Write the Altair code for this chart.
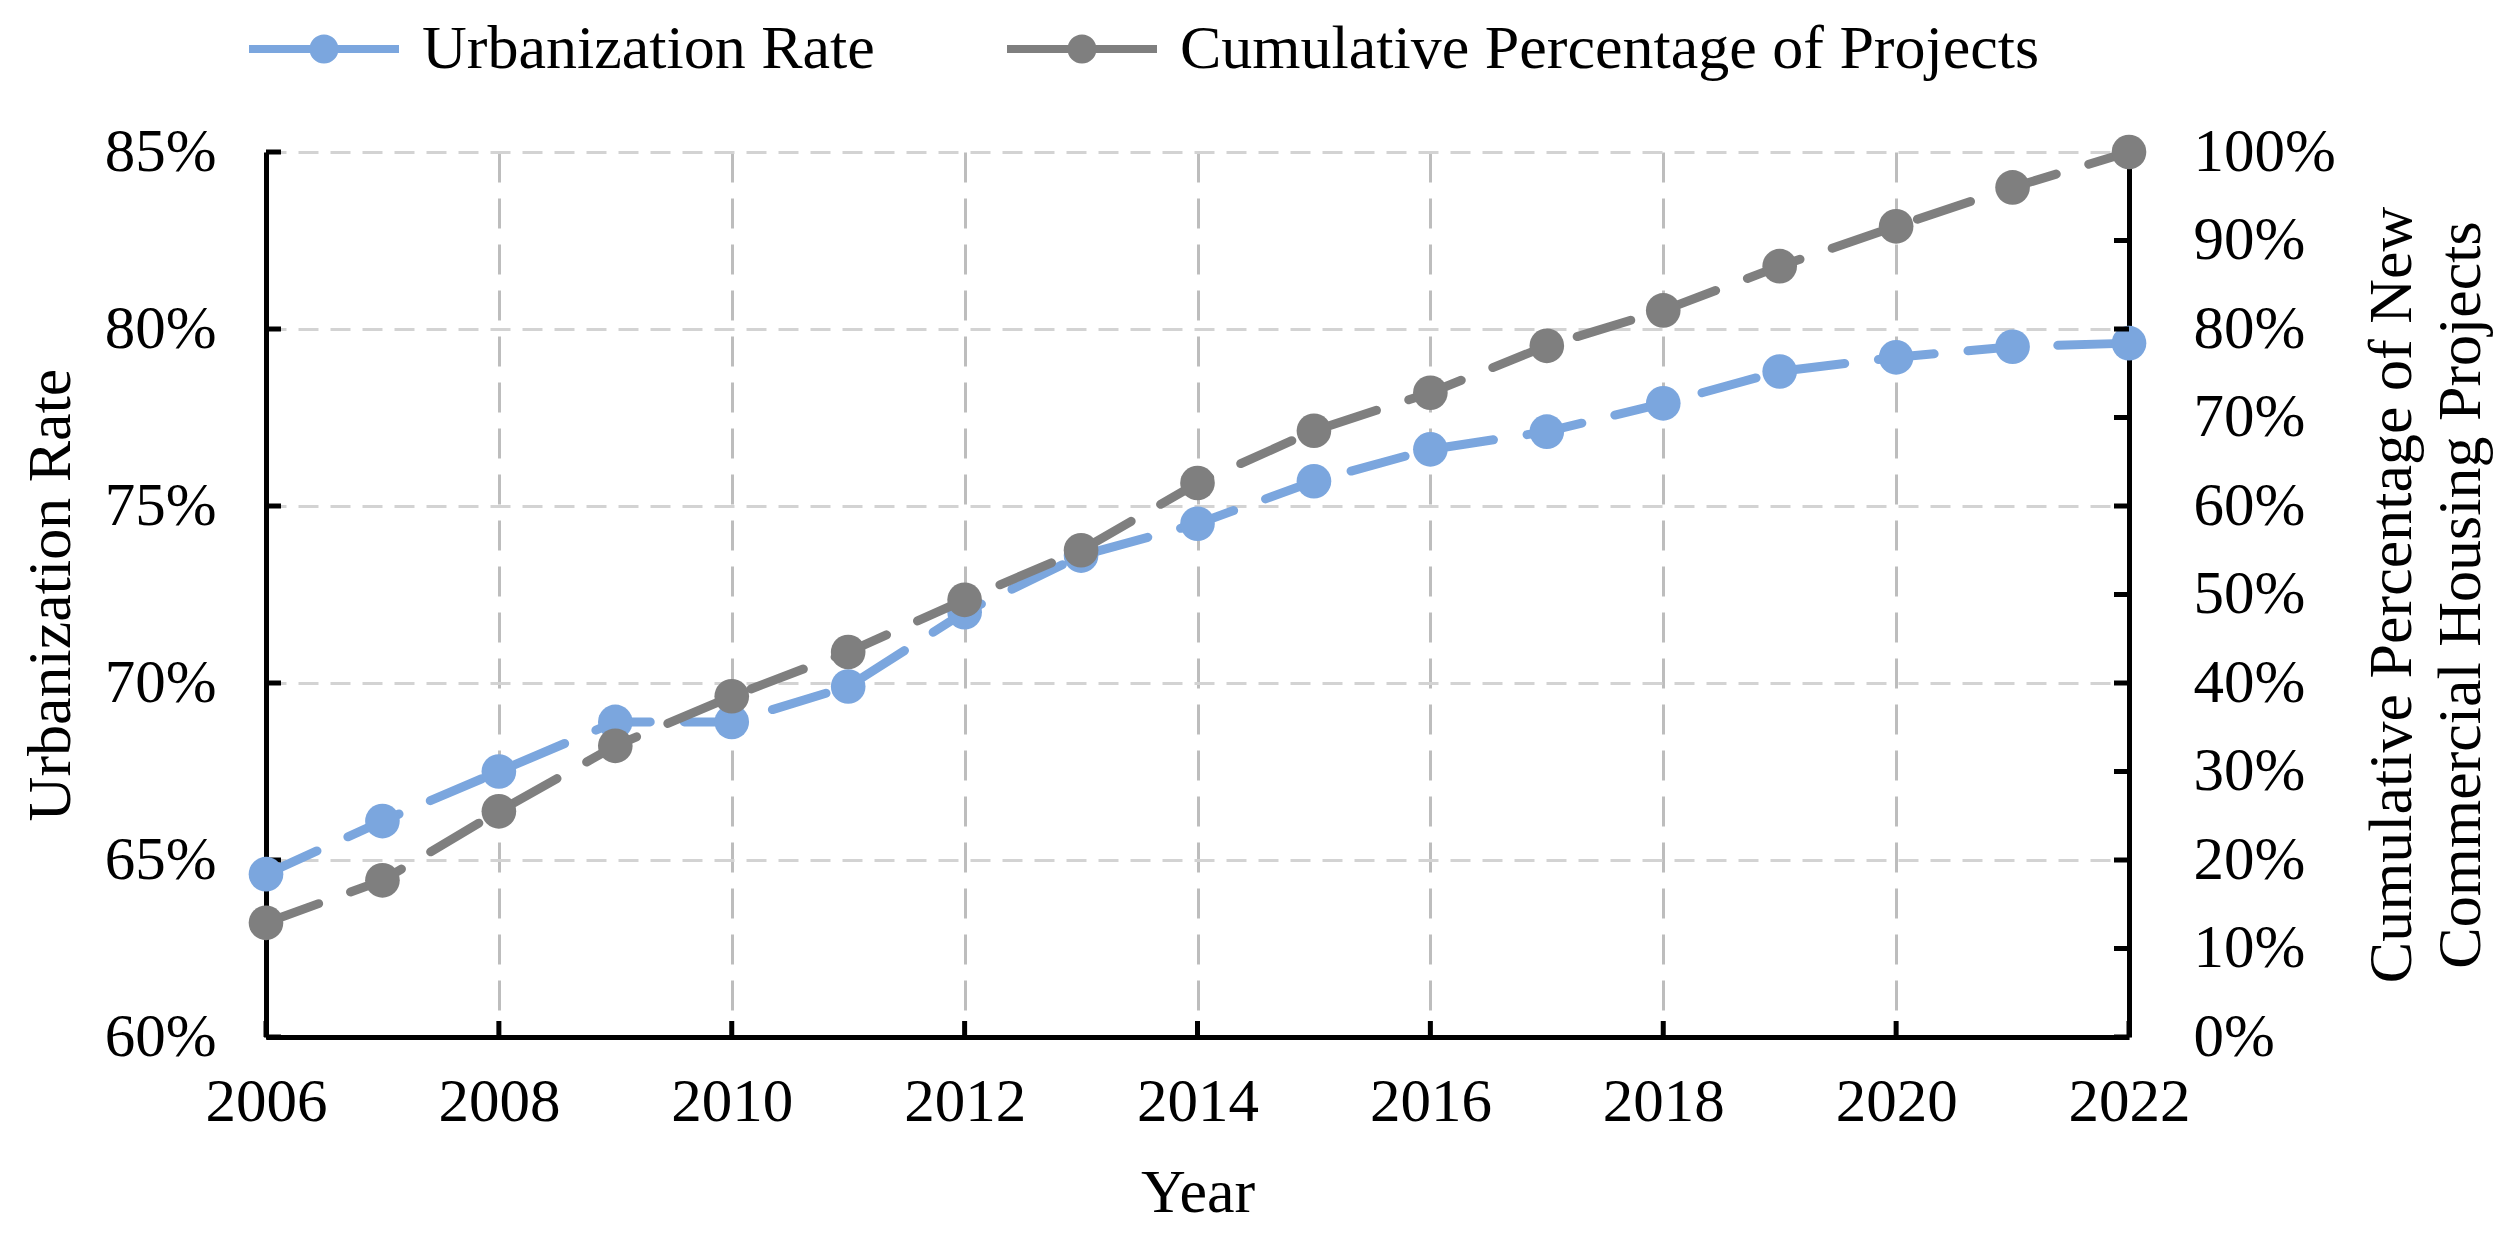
import altair as alt
import pandas as pd

years = list(range(2006, 2023))
urban = [64.6, 66.1, 67.5, 68.9, 68.9, 69.9, 72.0, 73.6, 74.5, 75.7, 76.6, 77.1, 77.9, 78.8, 79.2, 79.5, 79.6]
cum = [12.9, 17.7, 25.5, 32.9, 38.5, 43.5, 49.4, 55.0, 62.6, 68.5, 72.8, 78.1, 82.1, 87.1, 91.6, 96.0, 100.0]
series = ["Urbanization Rate", "Cumulative Percentage of Projects"]
x_ticks = [2006, 2008, 2010, 2012, 2014, 2016, 2018, 2020, 2022]
left_ticks = [60, 65, 70, 75, 80, 85]
right_ticks = [0, 10, 20, 30, 40, 50, 60, 70, 80, 90, 100]

BLUE = "#7BA6DE"
GRAY = "#7F7F7F"
FONT = "Liberation Serif"
W, H = 1863, 885

df_u = pd.DataFrame({"year": years, "value": urban, "series": series[0]})
df_c = pd.DataFrame({"year": years, "value": cum, "series": series[1]})
df_lt = pd.DataFrame({"value": left_ticks})
df_rt = pd.DataFrame({"value": right_ticks})
df_xt = pd.DataFrame({"year": x_ticks})

x_enc = alt.X(
    "year:Q",
    scale=alt.Scale(domain=[2006, 2022], nice=False, zero=False),
    axis=alt.Axis(
        values=x_ticks, format="d", title="Year", grid=True,
        gridColor="#BDBDBD", gridDash=[30, 16], gridWidth=3,
        ticks=False, labelPadding=35, titlePadding=30,
        labelFontSize=61, titleFontSize=62, labelFlush=False,
    ),
)

yl_enc = alt.Y(
    "value:Q",
    scale=alt.Scale(domain=[60, 85], nice=False, zero=False),
    axis=alt.Axis(
        values=left_ticks, labelExpr="datum.value + '%'", title="Urbanization Rate",
        orient="left", grid=True, gridColor="#D3D3D3", gridDash=[20, 12], gridWidth=3,
        ticks=False, labelPadding=50, titlePadding=22,
        labelFontSize=61, titleFontSize=62,
    ),
)

yr_enc = alt.Y(
    "value:Q",
    scale=alt.Scale(domain=[0, 100], nice=False, zero=False),
    axis=alt.Axis(
        values=right_ticks, labelExpr="datum.value + '%'",
        title=["Cumulative Percentage of New", "Commercial Housing Projects"],
        orient="right", grid=False, ticks=False, labelPadding=64,
        titleAngle=270, titleBaseline="top", titleLineHeight=69,
        titleX=232, titleY=H / 2, titleAlign="center",
        labelFontSize=61, titleFontSize=62,
    ),
)

legend_path = ("M-5,-0.27H5V0.27H-5Z "
               "M-0.97,0A0.97,0.97 0 1,1 0.97,0A0.97,0.97 0 1,1 -0.97,0Z")

color_enc = alt.Color(
    "series:N",
    scale=alt.Scale(domain=series, range=[BLUE, GRAY]),
    legend=alt.Legend(
        title=None, orient="none", legendX=27, legendY=-134, direction="horizontal",
        symbolType=legend_path, symbolSize=900, symbolStrokeWidth=0, symbolOpacity=1,
        labelFont=FONT, labelFontSize=62, labelOffset=67, columnPadding=132, padding=0,
        labelColor="black", labelLimit=2000,
    ),
)

line_kw = dict(strokeWidth=9, strokeDash=[56, 34], strokeCap="round")

blue_line = alt.Chart(df_u).mark_line(color=BLUE, **line_kw).encode(x=x_enc, y=yl_enc)
blue_pts = alt.Chart(df_u).mark_point(filled=True, size=1200, opacity=1).encode(
    x=x_enc, y=yl_enc, color=color_enc)
left_tk = alt.Chart(df_lt).mark_rule(color="black", strokeWidth=5).encode(
    y=yl_enc, x=alt.value(0), x2=alt.value(15))

gray_line = alt.Chart(df_c).mark_line(color=GRAY, **line_kw).encode(x=x_enc, y=yr_enc)
gray_pts = alt.Chart(df_c).mark_point(filled=True, size=1200, opacity=1).encode(
    x=x_enc, y=yr_enc, color=color_enc)
right_tk = alt.Chart(df_rt).mark_rule(color="black", strokeWidth=5).encode(
    y=yr_enc, x=alt.value(W), x2=alt.value(W - 15))

bottom_tk = alt.Chart(df_xt).mark_rule(color="black", strokeWidth=5).encode(
    x=x_enc, y=alt.value(H), y2=alt.value(H - 16))

left = alt.layer(blue_line, left_tk, blue_pts)
right = alt.layer(gray_line, right_tk, gray_pts)

chart = alt.layer(left, right, bottom_tk).resolve_scale(y="independent").properties(
    width=W, height=H,
    padding={"left": 258, "top": 144, "right": 377, "bottom": 203},
    autosize=alt.AutoSizeParams(type="none"),
    background="white",
).configure_view(stroke=None).configure_axis(
    labelFont=FONT, titleFont=FONT, labelColor="black", titleColor="black",
    titleFontWeight="normal", domainColor="black", domainWidth=5,
)

chart.save("out.html", embed_options={"renderer": "svg", "actions": False})
